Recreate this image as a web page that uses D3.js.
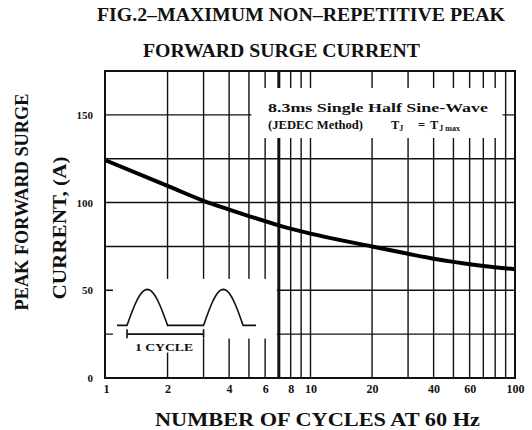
<!DOCTYPE html>
<html>
<head>
<meta charset="utf-8">
<script src="https://cdn.jsdelivr.net/npm/d3@7"></script>
<style>
  html, body { margin: 0; padding: 0; background: #fff; }
  svg { display: block; }
  text { font-family: "Liberation Serif", "DejaVu Serif", serif; font-weight: bold; fill: #111; }
</style>
</head>
<body>
<svg id="chart" width="532" height="430"></svg>
<script>
// ---- data ----
const cycles = [1, 2, 3, 4, 5, 7, 10, 20, 30, 40, 50, 60, 70, 100];
const surgeCurrent = [124, 109.5, 101, 96, 92.3, 87, 82.3, 75, 70.8, 68, 66.2, 64.9, 63.9, 62];
const xTickLabels = [1, 2, 4, 6, 8, 10, 20, 40, 60, 100];
const xGridValues = [2, 3, 4, 5, 6, 7, 8, 9, 10, 20, 30, 40, 50, 60, 70, 80, 90];
const yTickLabels = [0, 50, 100, 150];
const yGridValues = [25, 50, 75, 100, 125, 150];
const titleLines = ["FIG.2\u2013MAXIMUM NON\u2013REPETITIVE PEAK", "FORWARD SURGE CURRENT"];
const xTitle = "NUMBER OF CYCLES AT 60 Hz";
const yTitleLines = ["PEAK FORWARD SURGE", "CURRENT, (A)"];

// ---- layout ----
const svg = d3.select("#chart");
const L = 106, R = 515, T = 71, B = 378;
const x = d3.scaleLog().domain([1, 100]).range([L, R]);
const y = d3.scaleLinear().domain([0, 175]).range([B, T]);
const ink = "#111";

// gridlines
const grid = svg.append("g");
grid.selectAll("line.v").data(xGridValues).join("line")
  .attr("x1", d => x(d)).attr("x2", d => x(d))
  .attr("y1", T).attr("y2", B)
  .attr("stroke", ink).attr("stroke-width", d => d === 7 ? 3 : 1.4);
grid.selectAll("line.h").data(yGridValues).join("line")
  .attr("x1", L).attr("x2", R)
  .attr("y1", d => y(d)).attr("y2", d => y(d))
  .attr("stroke", ink).attr("stroke-width", 1.4);

// white area for the waveform inset (lower left)
svg.append("rect").attr("x", L + 7).attr("y", y(56.5))
  .attr("width", x(7) - 2 - (L + 7)).attr("height", y(22.5) - y(56.5)).attr("fill", "#fff");
svg.append("rect").attr("x", 130).attr("y", y(22.5) - 1)
  .attr("width", 68).attr("height", 15).attr("fill", "#fff");

// white area for the note box (upper right)
svg.append("rect").attr("x", x(5) + 2.5).attr("y", 88)
  .attr("width", x(90) - 3 - (x(5) + 2.5)).attr("height", 50).attr("fill", "#fff");

// curve
const line = d3.line().x((d, i) => x(cycles[i])).y(d => y(d)).curve(d3.curveMonotoneX);
svg.append("path").datum(surgeCurrent).attr("d", line)
  .attr("fill", "none").attr("stroke", "#000").attr("stroke-width", 4).attr("stroke-linecap", "butt");

// frame
svg.append("rect").attr("x", L - 1).attr("y", T).attr("width", R - L + 1).attr("height", B - T)
  .attr("fill", "none").attr("stroke", ink).attr("stroke-width", 2);

// waveform inset
const wBase = y(30), wPeak = y(50.5);
const hump = (x0, x1) => d3.range(0, 21).map(k => {
  const t = k / 20;
  return [x0 + (x1 - x0) * t, wBase - (wBase - wPeak) * Math.sin(Math.PI * t)];
});
const h1s = x(1.267), h1e = x(2), h2s = x(3), h2e = x(4.68);
const wave = [[117, wBase]].concat(hump(h1s, h1e), hump(h2s, h2e), [[256, wBase]]);
svg.append("path").attr("d", d3.line()(wave))
  .attr("fill", "none").attr("stroke", ink).attr("stroke-width", 1.6);
const by = y(25);
svg.append("line").attr("x1", h1s).attr("x2", h2s).attr("y1", by).attr("y2", by)
  .attr("stroke", ink).attr("stroke-width", 1.6);
[h1s, h2s].forEach(px => {
  svg.append("line").attr("x1", px).attr("x2", px).attr("y1", by - 5).attr("y2", by + 4)
    .attr("stroke", ink).attr("stroke-width", 1.6);
});
svg.append("text").attr("x", 164).attr("y", 351).attr("text-anchor", "middle")
  .attr("font-size", 10.5).attr("textLength", 58).attr("lengthAdjust", "spacingAndGlyphs")
  .text("1 CYCLE");

// note text
svg.append("text").attr("x", 268).attr("y", 112).attr("font-size", 12.5)
  .attr("textLength", 220).attr("lengthAdjust", "spacingAndGlyphs")
  .text("8.3ms Single Half Sine-Wave");
svg.append("text").attr("x", 268).attr("y", 129).attr("font-size", 12.5)
  .attr("textLength", 95).attr("lengthAdjust", "spacingAndGlyphs").text("(JEDEC Method)");
const n2 = svg.append("text").attr("x", 391).attr("y", 129).attr("font-size", 12.5);
n2.append("tspan").text("T");
n2.append("tspan").attr("font-size", 8).attr("dy", 2).text("J");
n2.append("tspan").attr("x", 418).attr("dy", -2).text("=");
n2.append("tspan").attr("x", 430).text("T");
n2.append("tspan").attr("font-size", 8).attr("dy", 2).attr("dx", 1).text("J max");

// axes labels (via d3 axes, no tick lines)
const xAxis = d3.axisBottom(x).tickValues(xTickLabels).tickFormat(d3.format("d")).tickSize(0).tickPadding(0);
const gx = svg.append("g").attr("transform", `translate(0,${B + 6})`).call(xAxis);
gx.select(".domain").remove();
gx.selectAll("text").attr("font-size", 12).attr("fill", ink)
  .attr("font-family", "Liberation Serif").attr("font-weight", "bold").attr("dy", "0.72em");

const yAxis = d3.axisLeft(y).tickValues(yTickLabels).tickSize(0).tickPadding(0);
const gy = svg.append("g").attr("transform", `translate(${L - 13},0)`).call(yAxis);
gy.select(".domain").remove();
gy.selectAll("text").attr("font-size", 11).attr("fill", ink)
  .attr("font-family", "Liberation Serif").attr("font-weight", "bold");

// titles
svg.append("text").attr("x", 301).attr("y", 21).attr("text-anchor", "middle")
  .attr("font-size", 19).attr("textLength", 408).attr("lengthAdjust", "spacingAndGlyphs").text(titleLines[0]);
svg.append("text").attr("x", 281.5).attr("y", 57).attr("text-anchor", "middle")
  .attr("font-size", 19).attr("textLength", 277).attr("lengthAdjust", "spacingAndGlyphs").text(titleLines[1]);
svg.append("text").attr("x", 317.5).attr("y", 426).attr("text-anchor", "middle")
  .attr("font-size", 19).attr("textLength", 325).attr("lengthAdjust", "spacingAndGlyphs").text(xTitle);
svg.append("text").attr("transform", "translate(28,202) rotate(-90)").attr("text-anchor", "middle")
  .attr("font-size", 19).attr("textLength", 217).attr("lengthAdjust", "spacingAndGlyphs").text(yTitleLines[0]);
svg.append("text").attr("transform", "translate(66,228) rotate(-90)").attr("text-anchor", "middle")
  .attr("font-size", 19).attr("textLength", 143).attr("lengthAdjust", "spacingAndGlyphs").text(yTitleLines[1]);
</script>
</body>
</html>
